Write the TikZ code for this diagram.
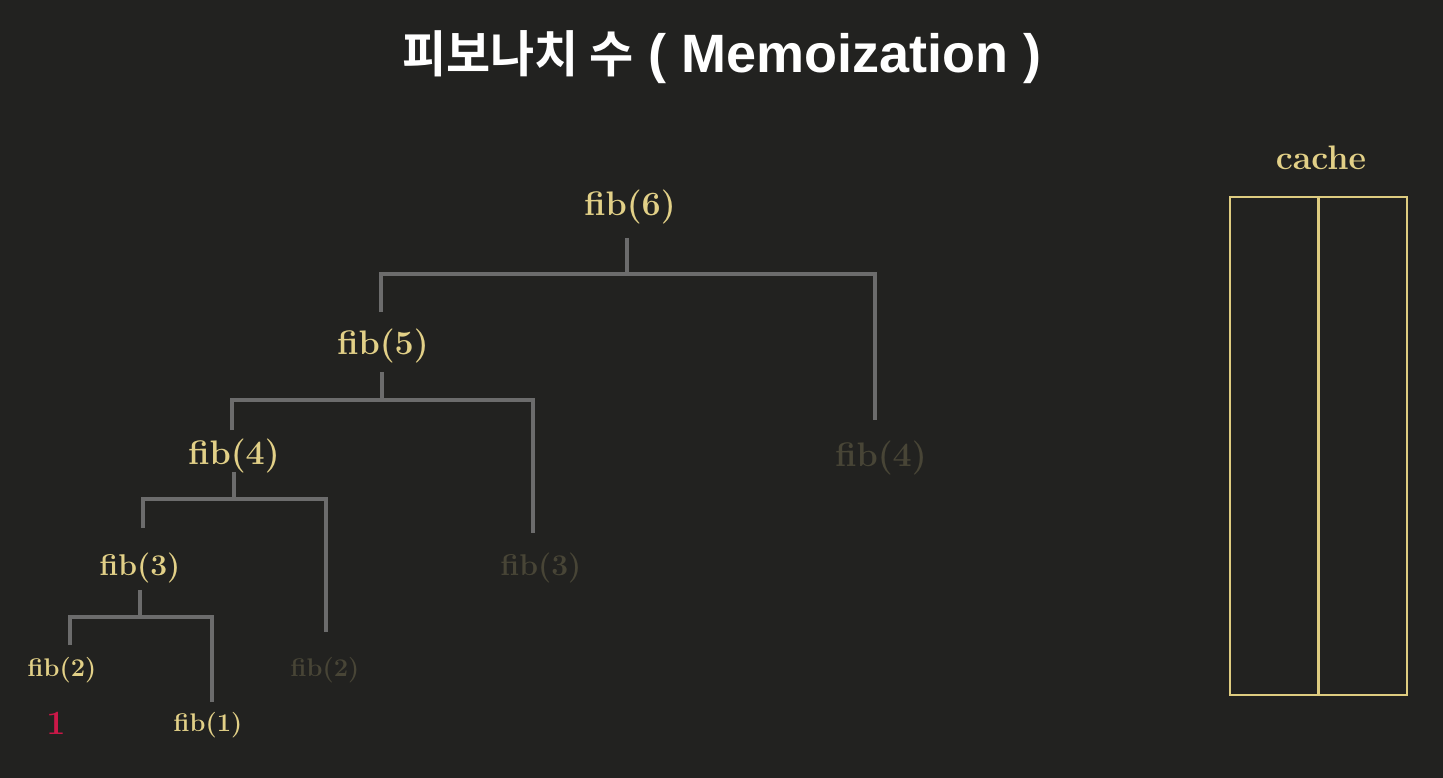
\documentclass[tikz,border=0pt]{standalone}
\usepackage{fontspec}
\usepackage{graphicx}
\newfontfamily\titlefont{Liberation Sans}[BoldFont={Liberation Sans Bold}]
\newfontfamily\krfont{Noto Sans CJK KR}[BoldFont={* Bold}]
\definecolor{bgc}{RGB}{34,34,32}
\definecolor{fibyel}{RGB}{226,208,135}
\definecolor{fibdim}{RGB}{72,69,54}
\definecolor{edgegray}{RGB}{108,108,108}
\definecolor{onered}{RGB}{204,24,72}
\definecolor{cacheyel}{RGB}{222,204,128}
\tikzset{
  fibbig/.style={text=fibyel,font=\fontsize{34}{40}\selectfont\bfseries,inner sep=0pt},
  fibmid/.style={text=fibyel,font=\fontsize{30}{36}\selectfont\bfseries,inner sep=0pt},
  fibsmall/.style={text=fibyel,font=\fontsize{25.5}{30}\selectfont\bfseries,inner sep=0pt},
  dimtxt/.style={text=fibdim},
  edge/.style={draw=edgegray,line width=3.2pt},
  cachebox/.style={draw=cacheyel,line width=2.2pt,minimum width=177pt,minimum height=498pt,inner sep=0pt}
}
\begin{document}
\begin{tikzpicture}[x=1pt,y=-1pt]
\fill[bgc] (0,0) rectangle (1443,778);
\useasboundingbox (0,0) rectangle (1443,778);
% title
\node[text=white,inner sep=0pt] (title) at (722,57)
  {\krfont\bfseries\fontsize{50}{60}\selectfont\scalebox{0.96}[1]{피보나치 수}\titlefont\fontsize{54}{60}\selectfont\bfseries{} ( Memoization )};
% tree nodes
\node[fibbig] (f6) at (630,207) {fib(6)};
\node[fibbig] (f5) at (383,346) {fib(5)};
\node[fibbig,dimtxt] (f4r) at (881,458) {fib(4)};
\node[fibbig] (f4) at (234,456) {fib(4)};
\node[fibmid,dimtxt] (f3r) at (541,568) {fib(3)};
\node[fibmid] (f3) at (140,568) {fib(3)};
\node[fibsmall,dimtxt] (f2r) at (325,670) {fib(2)};
\node[fibsmall] (f2) at (62,670) {fib(2)};
\node[fibsmall] (f1) at (208,725) {fib(1)};
\node[text=onered,font=\fontsize{34}{40}\selectfont\bfseries,inner sep=0pt] (one) at (56,723) {1};
% edges
\draw[edge] ([xshift=-3pt]f6.south |- 0,238) -- ([xshift=-3pt]f6.south |- 0,274);
\draw[edge] ([xshift=-2pt]f5.north |- 0,312) |- ([xshift=-6pt]f4r.north |- 0,274) -- ([xshift=-6pt]f4r.north |- 0,420);
\draw[edge] ([xshift=-1pt]f5.south |- 0,372) -- ([xshift=-1pt]f5.south |- 0,400);
\draw[edge] ([xshift=-2pt]f4.north |- 0,430) |- ([xshift=-8pt]f3r.north |- 0,400) -- ([xshift=-8pt]f3r.north |- 0,533);
\draw[edge] (f4.south |- 0,472) -- (f4.south |- 0,499);
\draw[edge] ([xshift=3pt]f3.north |- 0,528) |- ([xshift=1pt]f2r.north |- 0,499) -- ([xshift=1pt]f2r.north |- 0,632);
\draw[edge] (f3.south |- 0,590) -- (f3.south |- 0,617);
\draw[edge] ([xshift=8pt]f2.north |- 0,645) |- ([xshift=4pt]f1.north |- 0,617) -- ([xshift=4pt]f1.north |- 0,702);
% cache
\node[text=fibyel,font=\fontsize{34}{40}\selectfont\bfseries,inner sep=0pt] (cachelbl) at (1321,158) {cache};
\node[cachebox] (cache) at (1318.5,446) {};
\draw[draw=cacheyel,line width=2.2pt] (cache.north) -- (cache.south);
\end{tikzpicture}
\end{document}
